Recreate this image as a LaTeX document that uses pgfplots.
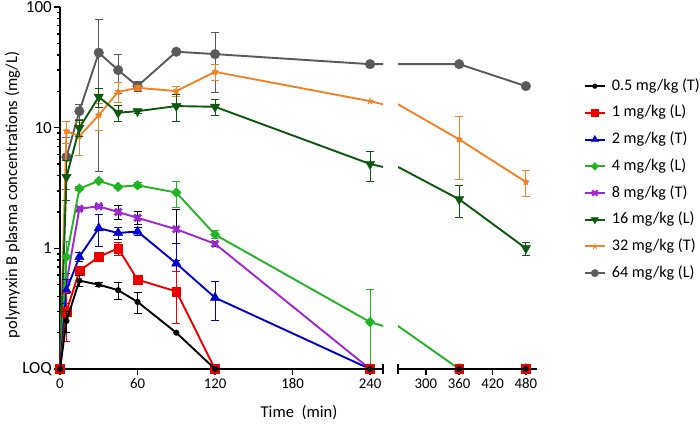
\documentclass[border=0pt]{standalone}
\usepackage{fontspec}
\setmainfont{Carlito}
\usepackage{pgfplots}
\usepackage{pgfplotstable}
\pgfplotsset{compat=1.18}

\definecolor{cBlack}{RGB}{0,0,0}
\definecolor{cRed}{RGB}{238,0,0}
\definecolor{cBlue}{RGB}{0,0,205}
\definecolor{cGreen}{RGB}{34,180,34}
\definecolor{cPurple}{RGB}{160,40,210}
\definecolor{cDGreen}{RGB}{12,88,12}
\definecolor{cOrange}{RGB}{240,130,40}
\definecolor{cGrey}{RGB}{90,90,90}

\pgfplotstableread{
t y e
0 0.1 0
5 0.25 0.05
15 0.54 0.06
30 0.50 0.02
45 0.45 0.07
60 0.36 0.07
90 0.20 0
120 0.1 0
240 0.1 0
360 0.1 0
480 0.1 0
}\tabA
\pgfplotstableread{
t y e
0 0.1 0
5 0.30 0.13
15 0.65 0.05
30 0.85 0.03
45 1.00 0.12
60 0.55 0.05
90 0.44 0.20
120 0.1 0
240 0.1 0
360 0.1 0
480 0.1 0
}\tabB
\pgfplotstableread{
t y e
0 0.1 0
5 0.45 0.1
15 0.85 0.07
30 1.47 0.43
45 1.34 0.15
60 1.38 0.10
90 0.75 0.35
120 0.39 0.14
240 0.1 0
360 0.1 0
480 0.1 0
}\tabC
\pgfplotstableread{
t y e
0 0.1 0
5 0.85 0.3
15 3.13 0.1
30 3.62 0.1
45 3.23 0.1
60 3.33 0.15
90 2.90 0.70
120 1.30 0.10
240 0.245 0.21
360 0.1 0
480 0.1 0
}\tabD
\pgfplotstableread{
t y e
0 0.1 0
5 0.52 0.1
15 2.13 0.05
30 2.23 0.05
45 2.00 0.28
60 1.79 0.22
90 1.44 0.65
120 1.09 0.05
240 0.1 0
360 0.1 0
480 0.1 0
}\tabE
\pgfplotstableread{
t y e
0 0.1 0
5 3.9 1.4
15 9.96 1.5
30 18.0 3.3
45 13.3 2.1
60 13.7 0.5
90 15.1 3.9
120 14.9 2.3
240 5.0 1.4
360 2.55 0.75
480 1.0 0.12
}\tabF
\pgfplotstableread{
t y e
0 0.1 0
5 9.35 2.0
15 8.5 2.6
30 12.7 3.2
45 19.8 3.7
60 21.4 1.0
90 20.1 2.0
120 29.0 4.4
240 16.6 0
360 8.0 4.3
480 3.55 0.85
}\tabG
\pgfplotstableread{
t y e
0 0.1 0
5 5.7 2.6
15 13.7 2.0
30 41.8 37.5
45 30.0 10.7
60 22.1 2.2
90 42.6 0
120 40.7 21
240 33.6 0
360 33.6 0
480 22.1 0
}\tabH

% #1 table, #2 colour, #3 mark options, #4 error colour, #5 lo, #6 hi
\newcommand{\ser}[6]{%
  \addplot[#4, line width=1pt, only marks, mark=none, forget plot,
    restrict x to domain=#5:#6,
    restrict expr to domain={\thisrow{e}}{0.0001:1000},
    error bars/.cd, y dir=both, y explicit,
    error bar style={#4, line width=1pt},
    error mark options={#4, rotate=90, mark size=4pt, line width=1pt}]
    table[x=t, y=y, y error=e]{#1};
  \addplot[#2, line width=1.9pt, mark=none, forget plot] table[x=t, y=y]{#1};
  \addplot[#2, only marks, #3, forget plot, restrict x to domain=#5:#6] table[x=t, y=y]{#1};
}
\newcommand{\allseries}[2]{%
  \ser{\tabH}{cGrey}{mark=*, mark size=4.8pt}{cGrey}{#1}{#2}
  \ser{\tabG}{cOrange}{mark=star, mark size=3.4pt, mark options={line width=1.3pt}}{cOrange}{#1}{#2}
  \ser{\tabF}{cDGreen}{mark=triangle*, mark size=5.4pt, mark options={rotate=180}}{cDGreen}{#1}{#2}
  \ser{\tabE}{cPurple}{mark=x, mark size=4.7pt, mark options={line width=2.8pt}}{black}{#1}{#2}
  \ser{\tabD}{cGreen}{mark=square*, mark size=3.4pt, mark options={rotate=45}}{cGreen}{#1}{#2}
  \ser{\tabC}{cBlue}{mark=triangle*, mark size=5.4pt}{cBlue}{#1}{#2}
  \ser{\tabB}{cRed}{mark=square*, mark size=4.4pt}{cRed}{#1}{#2}
  \ser{\tabA}{cBlack}{mark=*, mark size=2.8pt}{black}{#1}{#2}
}

\begin{document}
\begin{tikzpicture}
\useasboundingbox (0,0) rectangle (700pt,424pt);
\begin{axis}[
  scale only axis, height=362pt, ymode=log, ymin=0.1, ymax=100,
  axis x line=bottom, axis y line=left, axis line style={-, line width=2pt},
  tick align=outside, major tick length=6pt,
  tick style={line width=1.6pt, black},
  minor y tick num=0,
  /pgf/number format/assume math mode=true,
  xticklabel style={font=\fontsize{14.8}{17}\selectfont},
  yticklabel style={font=\fontsize{17}{20}\selectfont, inner sep=2pt},
  label style={font=\fontsize{16.6}{19}\selectfont},
  extra x tick labels={},
  extra x tick style={tick align=center, major tick length=10pt},
  clip mode=individual,
  at={(60pt,55pt)}, anchor=south west, width=323pt,
  xmin=0, xmax=250,
  xtick={0,60,120,180,240}, extra x ticks={250},
  ytick={0.1,1,10,100}, yticklabels={LOQ,1,10,100},
  ylabel={polymyxin B plasma concentrations (mg/L)},
  ylabel style={at={(axis description cs:-0.147,0.481)}, anchor=center},
  xlabel={Time\ \ (min)},
  xlabel style={at={(axis description cs:0.74,-0.1215)}, anchor=center},
]
\allseries{0}{250}
\end{axis}

\begin{axis}[
  scale only axis, height=362pt, ymode=log, ymin=0.1, ymax=100,
  axis x line=bottom, axis y line=none, axis line style={-, line width=2pt},
  tick align=outside, major tick length=6pt,
  tick style={line width=1.6pt, black},
  ytick=\empty,
  /pgf/number format/assume math mode=true,
  xticklabel style={font=\fontsize{14.8}{17}\selectfont},
  extra x tick labels={},
  extra x tick style={tick align=center, major tick length=10pt},
  clip mode=individual,
  at={(398pt,55pt)}, anchor=south west, width=139pt,
  xmin=250, xmax=500,
  xtick={300,360,420,480}, extra x ticks={250},
  legend style={at={(rel axis cs:1.336,0.8186)}, anchor=north west, draw=none, fill=none,
    font=\fontsize{16.2}{19}\selectfont, row sep=0pt, inner sep=0pt,
    nodes={inner xsep=6pt, inner ysep=5.35pt, text height=12pt, text depth=4pt, anchor=west}},
  legend cell align=left,
  legend image code/.code={\draw[mark repeat=2, mark phase=2, #1] plot coordinates {(0pt,0pt) (10pt,0pt) (20pt,0pt)};},
]
\allseries{250}{500}
\addlegendimage{cBlack, line width=1.9pt, mark=*, mark size=2.3pt, mark options={line width=0.4pt}}
\addlegendimage{cRed, line width=1.9pt, mark=square*, mark size=3.5pt, mark options={line width=0.4pt}}
\addlegendimage{cBlue, line width=1.9pt, mark=triangle*, mark size=4.2pt, mark options={line width=0.4pt}}
\addlegendimage{cGreen, line width=1.9pt, mark=square*, mark size=2.7pt, mark options={rotate=45, line width=0.4pt}}
\addlegendimage{cPurple, line width=1.9pt, mark=x, mark size=3.7pt, mark options={line width=2.3pt}}
\addlegendimage{cDGreen, line width=1.9pt, mark=triangle*, mark size=4.2pt, mark options={rotate=180, line width=0.4pt}}
\addlegendimage{cOrange, line width=1.9pt, mark=star, mark size=2.7pt, mark options={line width=1pt}}
\addlegendimage{cGrey, line width=1.9pt, mark=*, mark size=3.7pt, mark options={line width=0.4pt}}
\legend{0.5 mg/kg (T), 1 mg/kg (L), 2 mg/kg (T), 4 mg/kg (L), 8 mg/kg (T), 16 mg/kg (L), 32 mg/kg (T), 64 mg/kg (L)}
\end{axis}
\end{tikzpicture}
\end{document}
